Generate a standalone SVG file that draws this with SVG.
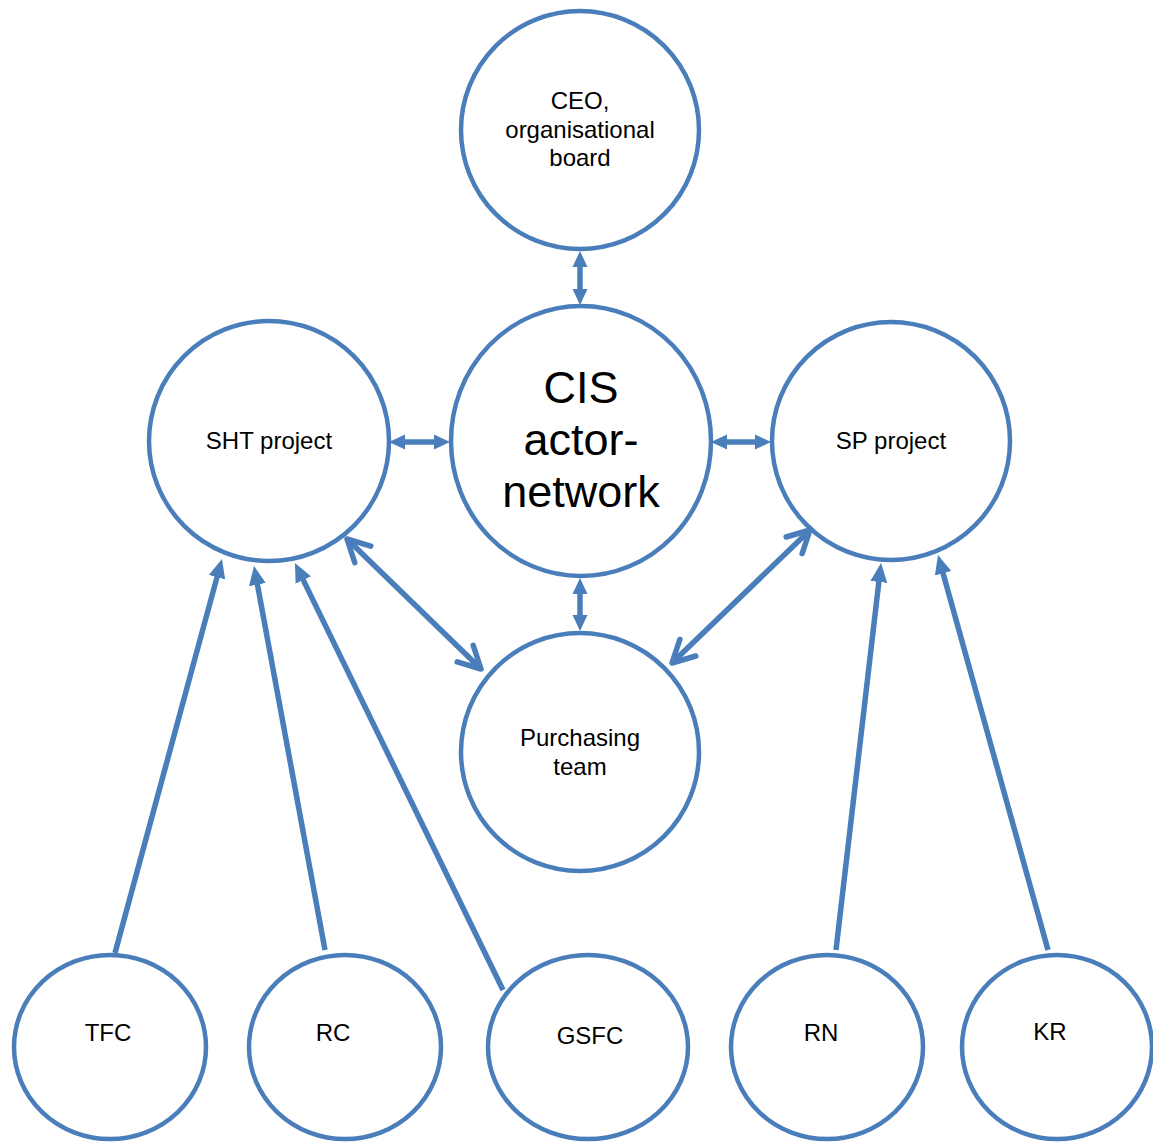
<svg xmlns="http://www.w3.org/2000/svg" width="1153" height="1142" viewBox="0 0 1153 1142">
  <style>
    .node { fill: #FFFFFF; stroke: #4A7EBB; stroke-width: 4.5; }
    .label { font-family: "Liberation Sans", Arial, sans-serif; font-size: 24px; fill: #000000; text-anchor: middle; }
    .big { font-size: 45px; }
    .link { stroke: #4A7EBB; stroke-width: 5.5; fill: none; }
  </style>
  <defs>
    <!-- filled triangular head; tip sits 8px past the line end -->
    <marker id="tri" markerUnits="userSpaceOnUse" viewBox="0 0 16 16" refX="7" refY="8" markerWidth="16" markerHeight="16" orient="auto-start-reverse">
      <path d="M0,0.5 L16,8 L0,15.5 z" fill="#4A7EBB"/>
    </marker>
    <!-- larger filled head for the long feeder arrows -->
    <marker id="triL" markerUnits="userSpaceOnUse" viewBox="0 0 19 18" refX="10" refY="9" markerWidth="19" markerHeight="18" orient="auto">
      <path d="M0,0.5 L19,9 L0,17.5 z" fill="#4A7EBB"/>
    </marker>
    <!-- open chevron head; tip at the line end -->
    <marker id="chev" markerUnits="userSpaceOnUse" viewBox="-28 -16 32 32" refX="0" refY="0" markerWidth="32" markerHeight="32" orient="auto-start-reverse">
      <path d="M-22,-11.5 L0,0 L-22,11.5" fill="none" stroke="#4A7EBB" stroke-width="5.5" stroke-linecap="round" stroke-linejoin="round"/>
    </marker>
  </defs>

  <g id="connectors">
    <line class="link" x1="580" y1="260" x2="580" y2="296" marker-start="url(#tri)" marker-end="url(#tri)"/>
    <line class="link" x1="398" y1="442" x2="441" y2="442" marker-start="url(#tri)" marker-end="url(#tri)"/>
    <line class="link" x1="720" y1="442" x2="762" y2="442" marker-start="url(#tri)" marker-end="url(#tri)"/>
    <line class="link" x1="580" y1="587" x2="580" y2="622" marker-start="url(#tri)" marker-end="url(#tri)"/>
    <line class="link" x1="347" y1="539" x2="481" y2="669" marker-start="url(#chev)" marker-end="url(#chev)"/>
    <line class="link" x1="810" y1="530" x2="672" y2="663" marker-start="url(#chev)" marker-end="url(#chev)"/>
    <line class="link" x1="115" y1="953" x2="219.6" y2="567.6" marker-end="url(#triL)"/>
    <line class="link" x1="325" y1="950" x2="255.6" y2="574.8" marker-end="url(#triL)"/>
    <line class="link" x1="503" y1="990" x2="298.9" y2="571.1" marker-end="url(#triL)"/>
    <line class="link" x1="836" y1="950" x2="880" y2="572" marker-end="url(#triL)"/>
    <line class="link" x1="1048" y1="950" x2="940.4" y2="563.7" marker-end="url(#triL)"/>
  </g>

  <g id="ceo">
    <circle class="node" cx="580" cy="130" r="119"/>
    <text class="label" x="580" y="109">CEO,</text>
    <text class="label" x="580" y="138">organisational</text>
    <text class="label" x="580" y="166">board</text>
  </g>
  <g id="cis">
    <ellipse class="node" cx="581" cy="441" rx="130" ry="135"/>
    <text class="label big" x="581" y="403">CIS</text>
    <text class="label big" x="581" y="455">actor-</text>
    <text class="label big" x="581" y="507">network</text>
  </g>
  <g id="sht">
    <circle class="node" cx="269" cy="441" r="120"/>
    <text class="label" x="269" y="449">SHT project</text>
  </g>
  <g id="sp">
    <circle class="node" cx="891" cy="441" r="119"/>
    <text class="label" x="891" y="449">SP project</text>
  </g>
  <g id="purchasing">
    <circle class="node" cx="580" cy="752" r="119"/>
    <text class="label" x="580" y="746">Purchasing</text>
    <text class="label" x="580" y="775">team</text>
  </g>
  <g id="tfc">
    <ellipse class="node" cx="110" cy="1047" rx="96" ry="92"/>
    <text class="label" x="108" y="1041">TFC</text>
  </g>
  <g id="rc">
    <ellipse class="node" cx="345" cy="1047" rx="96" ry="92"/>
    <text class="label" x="333" y="1041">RC</text>
  </g>
  <g id="gsfc">
    <ellipse class="node" cx="588" cy="1047" rx="100" ry="92"/>
    <text class="label" x="590" y="1044">GSFC</text>
  </g>
  <g id="rn">
    <ellipse class="node" cx="827" cy="1047" rx="96" ry="92"/>
    <text class="label" x="821" y="1041">RN</text>
  </g>
  <g id="kr">
    <ellipse class="node" cx="1057" cy="1047" rx="95" ry="92"/>
    <text class="label" x="1050" y="1040">KR</text>
  </g>
</svg>
